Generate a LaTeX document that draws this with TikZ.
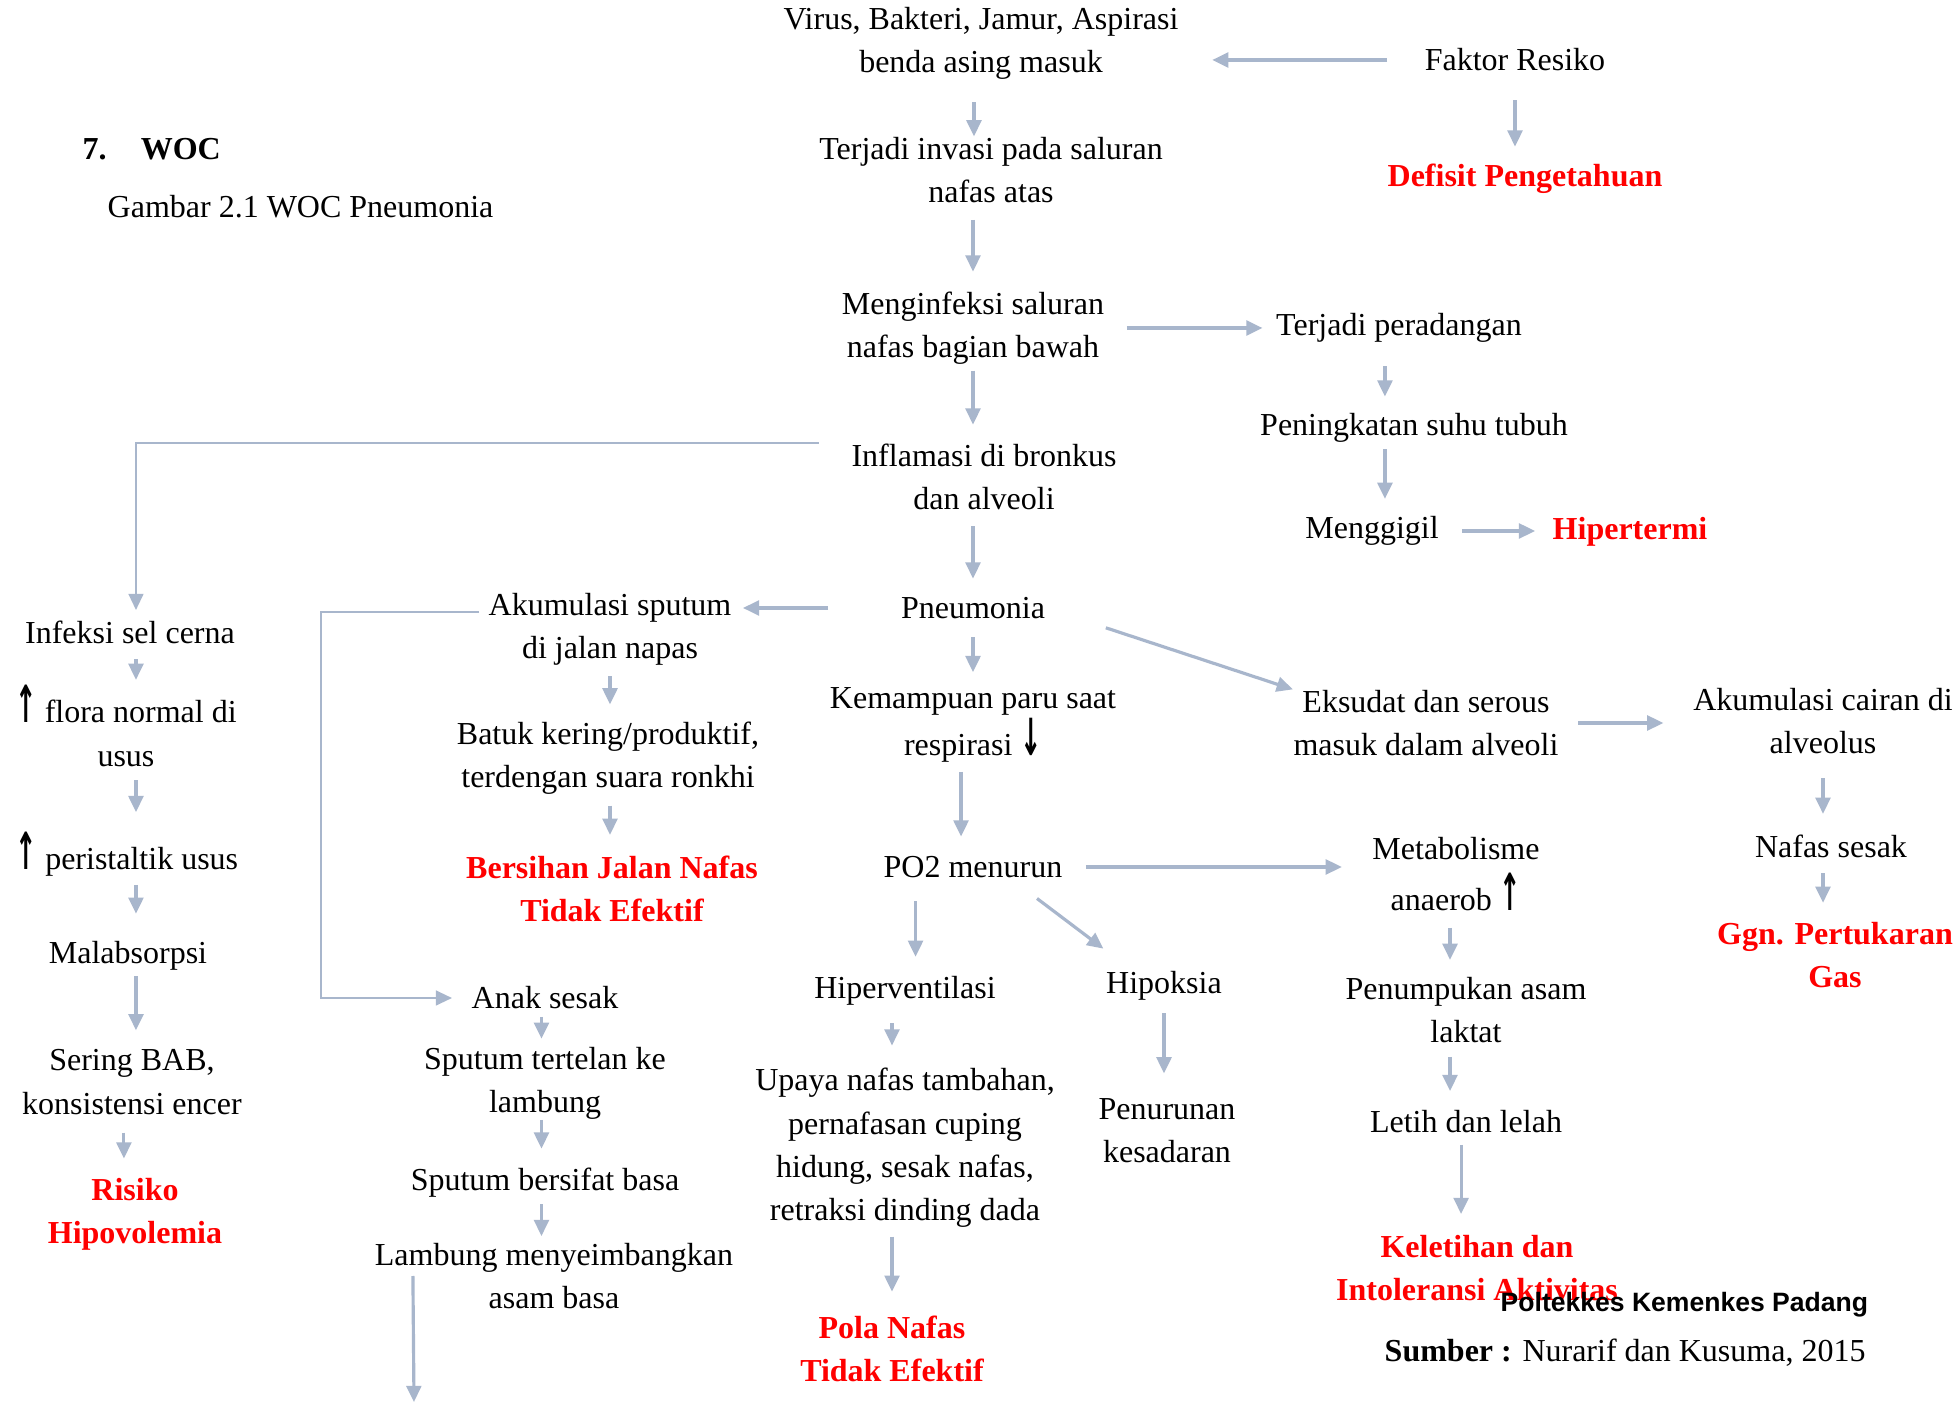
\documentclass[tikz,border=0pt]{standalone}
\usepackage{amsmath}
\usepackage{graphicx}
\usepackage{fontspec}
\setmainfont{Liberation Serif}
\newfontfamily\arialfont{Liberation Sans}
\newfontfamily\panahfont{DejaVu Sans}
\usepackage{tikz}
\usetikzlibrary{arrows.meta}

\definecolor{arrowblue}{RGB}{168,182,204}
\definecolor{diagred}{RGB}{255,0,0}
\newcommand\wocsize{\fontsize{9.1pt}{12.3pt}\selectfont}
\newcommand\naik{\scalebox{0.8}[1.6]{\panahfont\bfseries ↑}}
\newcommand\turun{\scalebox{0.8}[1.6]{\panahfont\bfseries ↓}}

\tikzset{
  txt/.style={align=center, inner sep=0pt, font=\wocsize},
  diag/.style={txt, text=diagred, font=\wocsize\bfseries},
  arr/.style={draw=arrowblue, line width=0.9pt, -{Triangle[width=4.2pt,length=4.6pt]}},
  link/.style={arr, line width=0.65pt}
}

\begin{document}
\begin{tikzpicture}[x=0.01cm, y=-0.01cm]
        \fill[white] (0,0) rectangle (1960,1404);
        \useasboundingbox (0,0) rectangle (1960,1404);

        % judul
        \node[txt, anchor=west, font=\wocsize\bfseries] (woc) at (82,149) {7.\hspace{9.7pt}WOC};
        \node[txt, anchor=west] (gambar) at (107,207) {Gambar 2.1 WOC Pneumonia};

        % jalur utama
        \node[txt] (virus) at (981,43) {Virus, Bakteri, Jamur, Aspirasi\\benda asing masuk};
        \node[txt] (faktor) at (1515,60) {Faktor Resiko};
        \node[diag] (defisit) at (1525,179) {Defisit Pengetahuan};
        \node[txt] (invasi) at (991,170) {Terjadi invasi pada saluran\\nafas atas};
        \node[txt] (infeksi) at (973,328) {Menginfeksi saluran\\nafas bagian bawah};
        \node[txt] (radang) at (1399,328) {Terjadi peradangan};
        \node[txt] (suhu) at (1414,428) {Peningkatan suhu tubuh};
        \node[txt] (gigil) at (1372,531) {Menggigil};
        \node[diag] (hipertermi) at (1630,532) {Hipertermi};
        \node[txt] (inflamasi) at (984,477) {Inflamasi di bronkus\\dan alveoli};
        \node[txt] (pneumonia) at (973,608) {Pneumonia};
        \node[txt] (kemampuan) at (973,725) {Kemampuan paru saat\\respirasi \turun};
        \node[txt] (po2) at (973,867) {PO2 menurun};

        % cabang kiri
        \node[txt] (cerna) at (130,632) {Infeksi sel cerna};
        \node[txt] (flora) at (126,726) {\naik{} flora normal di\\usus};
        \node[txt] (peristaltik) at (127,854) {\naik{} peristaltik usus};
        \node[txt] (malabsorpsi) at (128,956) {Malabsorpsi};
        \node[txt] (bab) at (132,1082) {Sering BAB,\\konsistensi encer};
        \node[diag] (hipovolemia) at (135,1214) {Risiko\\Hipovolemia};

        \node[txt] (sputum) at (610,629) {Akumulasi sputum\\di jalan napas};
        \node[txt] (batuk) at (608,758) {Batuk kering/produktif,\\terdengan suara ronkhi};
        \node[diag] (bersihan) at (612,889) {Bersihan Jalan Nafas\\Tidak Efektif};
        \node[txt] (anak) at (545,998) {Anak sesak};
        \node[txt] (tertelan) at (545,1083) {Sputum tertelan ke\\lambung};
        \node[txt] (basa) at (545,1183) {Sputum bersifat basa};
        \node[txt] (lambung) at (554,1276) {Lambung menyeimbangkan\\asam basa};
        \coordinate (lambungout) at (414,1402);

        % cabang kanan
        \node[txt] (eksudat) at (1426,723) {Eksudat dan serous\\masuk dalam alveoli};
        \node[txt] (cairan) at (1823,721) {Akumulasi cairan di\\alveolus};
        \node[txt] (sesak) at (1831,846) {Nafas sesak};
        \node[diag] (ggn) at (1835,955) {Ggn. Pertukaran\\Gas};
        \node[txt] (metabolisme) at (1456,874) {Metabolisme\\[2pt]anaerob \naik};
        \node[txt] (laktat) at (1466,1010) {Penumpukan asam\\laktat};
        \node[txt] (letih) at (1466,1122) {Letih dan lelah};
        \node[diag] (keletihan) at (1477,1268) {Keletihan dan\\Intoleransi Aktivitas};
        \node[txt] (hiperventilasi) at (905,991) {Hiperventilasi};
        \node[txt] (upaya) at (905,1148) {Upaya nafas tambahan,\\pernafasan cuping\\hidung, sesak nafas,\\retraksi dinding dada};
        \node[diag] (pola) at (892,1349) {Pola Nafas\\Tidak Efektif};
        \node[txt] (hipoksia) at (1164,986) {Hipoksia};
        \node[txt] (kesadaran) at (1167,1131) {Penurunan\\kesadaran};

        % sumber
        \node[anchor=west, inner sep=0pt, font=\arialfont\fontsize{7.55pt}{9pt}\selectfont\bfseries] (poltekkes) at (1500,1305) {Poltekkes Kemenkes Padang};
        \node[txt, anchor=west] (sumber) at (1384,1353) {\textbf{Sumber :} Nurarif dan Kusuma, 2015};

        % panah
        \draw[arr, shorten <=10.5pt, shorten >=9.4pt] (faktor.west) -- (faktor.west -| virus.east);
        \draw[arr, shorten <=8pt, shorten >=4.8pt] (faktor.south) -- (faktor.south |- defisit.north);
        \draw[arr, shorten <=6.3pt] ([xshift=-2pt]virus.south) -- ([xshift=-2pt]virus.south |- invasi.north);
        \draw[arr, shorten <=4.6pt, shorten >=5.5pt] (infeksi.north |- invasi.south) -- (infeksi.north);
        \draw[arr, shorten <=1.6pt, shorten >=5.3pt] (infeksi.south) -- (infeksi.south |- inflamasi.north);
        \draw[arr, shorten <=6.3pt, shorten >=3.7pt] (infeksi.east |- radang.west) -- (radang.west);
        \draw[arr, shorten <=6.5pt, shorten >=4.6pt] ([xshift=-4pt]radang.south) -- ([xshift=-4pt]radang.south |- suhu.north);
        \draw[arr, shorten <=1.7pt, shorten >=4.8pt] ([xshift=-4pt]radang.south |- suhu.south) -- ([xshift=-4pt]radang.south |- gigil.north);
        \draw[arr, shorten <=6.5pt, shorten >=4.8pt] (gigil.east) -- (gigil.east -| hipertermi.west);
        \draw[arr, shorten <=4.4pt, shorten >=5.1pt] (pneumonia.north |- inflamasi.south) -- (pneumonia.north);
        \draw[link, shorten >=2.8pt] ([xshift=-9.1pt]inflamasi.north west) -| ([xshift=1.7pt]cerna.north);

        \draw[arr, shorten <=4.3pt, shorten >=1.4pt] ([xshift=1.7pt]cerna.south) -- ([xshift=1.7pt]cerna.south |- flora.north);
        \draw[arr, shorten <=3.7pt, shorten >=5.4pt] ([xshift=1.7pt]cerna.south |- flora.south) -- ([xshift=1.7pt]cerna.south |- peristaltik.north);
        \draw[arr, shorten <=2.3pt, shorten >=7.7pt] ([xshift=1.7pt]cerna.south |- peristaltik.south) -- ([xshift=1.7pt]cerna.south |- malabsorpsi.north);
        \draw[arr, shorten <=1.4pt, shorten >=5.3pt] ([xshift=1.7pt]cerna.south |- malabsorpsi.south) -- ([xshift=1.7pt]cerna.south |- bab.north);
        \draw[arr, shorten <=5pt, shorten >=5.3pt] ([xshift=-2.3pt]bab.south) -- ([xshift=-2.3pt]bab.south |- hipovolemia.north);

        \draw[arr, shorten <=20.5pt, shorten >=3.1pt] (pneumonia.west) -- (pneumonia.west -| sputum.east);
        \draw[link, shorten >=5.4pt] ([yshift=4.8pt,xshift=-2.5pt]sputum.west) -- ++(-158,0) |- (anak.west);
        \draw[arr, shorten <=3pt, shorten >=4.7pt] (sputum.south) -- (sputum.south |- batuk.north);
        \draw[arr, shorten <=3pt, shorten >=5.8pt] (sputum.south |- batuk.south) -- (sputum.south |- bersihan.north);
        \draw[arr, shorten <=2pt, shorten >=2.1pt] ([xshift=-1pt]anak.south) -- ([xshift=-1pt]anak.south |- tertelan.north);
        \draw[arr, shorten >=5.4pt] ([xshift=-1pt]anak.south |- tertelan.south) -- ([xshift=-1pt]anak.south |- basa.north);
        \draw[arr, shorten <=1.7pt, shorten >=1.8pt] ([xshift=-1pt]anak.south |- basa.south) -- ([xshift=-1pt]anak.south |- lambung.north);
        \draw[arr] ([xshift=11pt]lambung.west) -- (lambungout);

        \draw[arr, shorten <=5.1pt, shorten >=4.1pt] (pneumonia.south) -- (pneumonia.south |- kemampuan.north);
        \draw[arr, shorten <=2.4pt, shorten >=5.4pt] ([xshift=-3.4pt]kemampuan.south) -- ([xshift=-3.4pt]kemampuan.south |- po2.north);
        \draw[arr, shorten <=18pt] (pneumonia.east) -- (eksudat.north west);
        \draw[arr, shorten <=5.4pt, shorten >=8.3pt] (eksudat.east) -- (eksudat.east -| cairan.west);
        \draw[arr, shorten <=6.7pt, shorten >=5.7pt] (cairan.south) -- (cairan.south |- sesak.north);
        \draw[arr, shorten <=4.3pt, shorten >=5.3pt] (cairan.south |- sesak.south) -- (cairan.south |- ggn.north);

        \draw[arr, shorten <=6.5pt, shorten >=8.5pt] (po2.east) -- (po2.east -| metabolisme.west);
        \draw[arr, shorten <=6.5pt, shorten >=5.4pt] ([xshift=3pt]hiperventilasi.north |- po2.south) -- ([xshift=3pt]hiperventilasi.north);
        \draw[arr] ([xshift=-7.4pt,yshift=-5.7pt]po2.south east) -- ([xshift=-0.6pt,yshift=6.3pt]hipoksia.north west);
        \draw[arr, shorten <=4.8pt, shorten >=6.3pt] (pola.north |- hiperventilasi.south) -- (pola.north |- upaya.north);
        \draw[arr, shorten <=2.4pt, shorten >=6.7pt] (pola.north |- upaya.south) -- (pola.north);
        \draw[arr, shorten <=3.4pt, shorten >=7pt] (hipoksia.south) -- (hipoksia.south |- kesadaran.north);
        \draw[arr, shorten <=4.8pt, shorten >=4.7pt] ([xshift=-1.7pt]metabolisme.south) -- ([xshift=-1.7pt]metabolisme.south |- laktat.north);
        \draw[arr, shorten <=3.8pt, shorten >=5.4pt] ([xshift=-1.7pt]metabolisme.south |- laktat.south) -- ([xshift=-1.7pt]metabolisme.south |- letih.north);
        \draw[arr, shorten <=3.1pt, shorten >=5.8pt] ([xshift=-1.4pt]letih.south) -- ([xshift=-1.4pt]letih.south |- keletihan.north);
    \end{tikzpicture}
\end{document}
